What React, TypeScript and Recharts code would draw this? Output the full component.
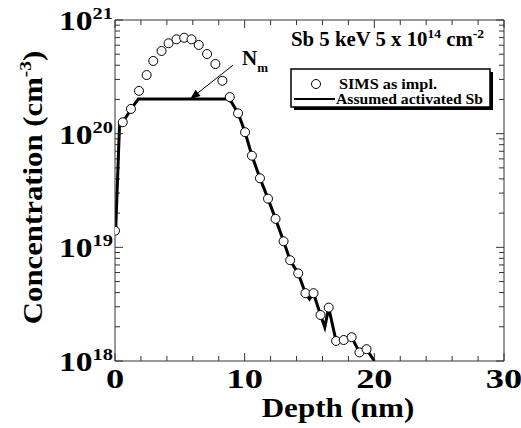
import { ComposedChart, Line, Scatter, XAxis, YAxis, ReferenceLine } from "recharts";

const SERIF = '"Liberation Serif", "Times New Roman", serif';

// SIMS as implanted (depth nm, concentration cm^-3)
const simsDepth = [
  0, 0.6, 1.23, 1.85, 2.44, 2.95, 3.59, 4.13, 4.74, 5.33, 5.9, 6.46, 7.1, 7.74, 8.28, 8.85,
  9.49, 10.03, 10.56, 11.18, 11.8, 12.38, 13.0, 13.51, 14.13, 14.69, 15.31, 15.85, 16.48,
  17.05, 17.64, 18.25, 18.85, 19.4,
];
const simsConc = [
  1.4e19, 1.26e20, 1.65e20, 2.38e20, 3.28e20, 4.36e20, 5.34e20, 6.24e20, 6.76e20, 6.98e20,
  6.76e20, 6.03e20, 5.02e20, 4.1e20, 2.92e20, 2.1e20, 1.51e20, 1.03e20, 6.4e19, 4.05e19,
  2.68e19, 1.78e19, 1.13e19, 7.7e18, 5.9e18, 3.95e18, 3.95e18, 2.54e18, 2.95e18, 1.5e18,
  1.53e18, 1.62e18, 1.19e18, 1.27e18,
];

// assumed activated Sb
const fitDepth = [
  0.05, 0.35, 0.6, 1.25, 1.8, 8.7, 9.0, 9.5, 10.03, 10.56, 11.18, 11.8, 12.38, 13.0, 13.51,
  14.13, 14.69, 15.0, 15.31, 15.85, 16.18, 16.48, 17.05, 17.64, 18.25, 18.85, 19.4, 20.0,
];
const fitConc = [
  1.4e19, 1.2e20, 1.26e20, 1.65e20, 2.02e20, 2.02e20, 1.88e20, 1.51e20, 1.03e20, 6.4e19,
  4.05e19, 2.68e19, 1.78e19, 1.13e19, 7.7e18, 5.9e18, 3.95e18, 3.5e18, 3.95e18, 2.54e18,
  1.98e18, 2.95e18, 1.5e18, 1.53e18, 1.62e18, 1.19e18, 1.27e18, 1e18,
];

const xTicks = [0, 2, 4, 6, 8, 10, 12, 14, 16, 18, 20, 22, 24, 26, 28, 30];
const xLabels = [0, 10, 20, 30];
const decades = [1e18, 1e19, 1e20, 1e21];
const minorMult = [2, 3, 4, 5, 6, 7, 8, 9];

const yTicks: number[] = [];
decades.forEach((d, i) => {
  yTicks.push(d);
  if (i < decades.length - 1) minorMult.forEach((m) => yTicks.push(d * m));
});

const simsData = simsDepth.map((x, i) => ({ x, c: simsConc[i] }));
const fitData = fitDepth.map((x, i) => ({ x, c: fitConc[i] }));

const isMajorY = (v: number) => decades.some((d) => Math.abs(v - d) < d * 1e-6);
const FRAME = "#333";

function XLabel(p: any) {
  return (
    <text
      transform={`translate(${p.x},${p.y + 27}) scale(1.3,1)`}
      textAnchor="middle"
      fontFamily={SERIF}
      fontWeight="bold"
      fontSize={28}
      fill="#000"
    >
      {p.payload.value}
    </text>
  );
}

function YLabel(p: any) {
  const exp = Math.round(Math.log10(p.payload.value));
  return (
    <text
      transform={`translate(${p.x - 2},${p.y + 10}) scale(1.2,1)`}
      textAnchor="end"
      fontFamily={SERIF}
      fontWeight="bold"
      fontSize={28}
      fill="#000"
    >
      10
      <tspan dy={-11} fontSize={17}>
        {exp}
      </tspan>
    </text>
  );
}

// inward tick marks at both ends of a vertical reference line (bottom + top axis)
function makeXTick(major: boolean) {
  return (p: any) => {
    const top = Math.min(p.y1, p.y2);
    const bot = Math.max(p.y1, p.y2);
    const len = major ? 8 : 5;
    return (
      <g>
        <line x1={p.x1} x2={p.x1} y1={bot} y2={bot - len} stroke={FRAME} />
        <line x1={p.x1} x2={p.x1} y1={top} y2={top + len} stroke={FRAME} />
      </g>
    );
  };
}

// inward tick marks at both ends of a horizontal reference line (left + right axis)
function makeYTick(major: boolean) {
  return (p: any) => {
    const l = Math.min(p.x1, p.x2);
    const r = Math.max(p.x1, p.x2);
    const len = major ? 8 : 5;
    return (
      <g>
        <line x1={l} x2={l + len} y1={p.y1} y2={p.y1} stroke={FRAME} />
        <line x1={r} x2={r - len} y1={p.y1} y2={p.y1} stroke={FRAME} />
      </g>
    );
  };
}

function XTitle(p: any) {
  const vb = p.viewBox;
  return (
    <text
      transform={`translate(${vb.x + 223},${vb.y + 56}) scale(1.15,1)`}
      textAnchor="middle"
      fontFamily={SERIF}
      fontWeight="bold"
      fontSize={27}
      fill="#000"
    >
      Depth (nm)
    </text>
  );
}

function YTitle(p: any) {
  const vb = p.viewBox;
  return (
    <text
      transform={`translate(${vb.x + 32},${vb.y + vb.height / 2 - 3}) rotate(-90) scale(1.14,1)`}
      textAnchor="middle"
      fontFamily={SERIF}
      fontWeight="bold"
      fontSize={27}
      fill="#000"
    >
      Concentration (cm
      <tspan dy={-11} fontSize={17}>
        -3
      </tspan>
      <tspan dy={11}>)</tspan>
    </text>
  );
}

function Arrow(p: any) {
  const { x1, y1, x2, y2 } = p;
  const a = Math.atan2(y2 - y1, x2 - x1);
  const L = 10;
  const w = 4;
  const bx = x2 - L * Math.cos(a);
  const by = y2 - L * Math.sin(a);
  const nx = -Math.sin(a) * w;
  const ny = Math.cos(a) * w;
  return (
    <g>
      <line x1={x1} y1={y1} x2={bx} y2={by} stroke="#000" strokeWidth={1} />
      <polygon points={`${x2},${y2} ${bx + nx},${by + ny} ${bx - nx},${by - ny}`} fill="#000" />
      <text x={x1 + 9} y={y1} fontFamily={SERIF} fontWeight="bold" fontSize={21} fill="#000">
        N
        <tspan dy={7} fontSize={13}>
          m
        </tspan>
      </text>
    </g>
  );
}

export default function App() {
  return (
    <div style={{ position: "absolute", left: 0, top: 0, width: 521, height: 428, background: "#fff" }}>
      <ComposedChart
        width={521}
        height={428}
        margin={{ top: 20, right: 17, bottom: 7, left: 10 }}
      >
        <XAxis
          dataKey="x"
          type="number"
          domain={[0, 30]}
          ticks={xLabels}
          interval={0}
          tick={XLabel}
          tickLine={false}
          tickSize={0}
          tickMargin={0}
          axisLine={{ stroke: FRAME }}
          height={60}
          allowDataOverflow
          label={<XTitle />}
        />
        <YAxis
          dataKey="c"
          type="number"
          scale="log"
          domain={[1e18, 1e21]}
          ticks={decades}
          interval={0}
          tick={YLabel}
          tickLine={false}
          tickSize={0}
          tickMargin={0}
          axisLine={{ stroke: FRAME }}
          width={105}
          allowDataOverflow
          label={<YTitle />}
        />
        {/* frame: top and right edges */}
        <ReferenceLine y={1e21} stroke={FRAME} ifOverflow="visible" />
        <ReferenceLine x={30} stroke={FRAME} ifOverflow="visible" />
        {xTicks.map((t) => (
          <ReferenceLine key={`xt${t}`} x={t} ifOverflow="visible" shape={makeXTick(t % 10 === 0)} />
        ))}
        {yTicks.map((t) => (
          <ReferenceLine key={`yt${t}`} y={t} ifOverflow="visible" shape={makeYTick(isMajorY(t))} />
        ))}
        <Line
          data={fitData}
          dataKey="c"
          type="linear"
          stroke="#000"
          strokeWidth={3}
          dot={false}
          isAnimationActive={false}
        />
        <Scatter
          data={simsData}
          dataKey="c"
          isAnimationActive={false}
          shape={(p: any) => (
            <circle cx={p.cx} cy={p.cy} r={4.5} fill="#fff" stroke="#000" strokeWidth={1} />
          )}
        />
        <ReferenceLine
          segment={[
            { x: 9.1, y: 4.0e20 },
            { x: 5.8, y: 2.02e20 },
          ]}
          ifOverflow="visible"
          shape={Arrow}
        />
      </ComposedChart>
      <svg
        width={521}
        height={428}
        style={{ position: "absolute", left: 0, top: 0, pointerEvents: "none" }}
      >
        <text
          x={291}
          y={46}
          textLength={193}
          lengthAdjust="spacingAndGlyphs"
          fontFamily={SERIF}
          fontWeight="bold"
          fontSize={20}
          fill="#000"
        >
          Sb 5 keV 5 x 10
          <tspan dy={-8} fontSize={13}>
            14
          </tspan>
          <tspan dy={8}> cm</tspan>
          <tspan dy={-8} fontSize={13}>
            -2
          </tspan>
        </text>
        <rect x={294} y={72} width={199} height={38} fill="#000" />
        <rect x={291} y={69} width={199} height={38} fill="#fff" stroke="#000" strokeWidth={1.5} />
        <circle cx={316} cy={84} r={4.5} fill="#fff" stroke="#000" strokeWidth={1} />
        <text
          x={339}
          y={88.5}
          textLength={98}
          lengthAdjust="spacingAndGlyphs"
          fontFamily={SERIF}
          fontWeight="bold"
          fontSize={15}
          fill="#000"
        >
          SIMS as impl.
        </text>
        <line x1={294} x2={335} y1={99} y2={99} stroke="#000" strokeWidth={2} />
        <text
          x={336}
          y={104}
          textLength={147}
          lengthAdjust="spacingAndGlyphs"
          fontFamily={SERIF}
          fontWeight="bold"
          fontSize={15}
          fill="#000"
        >
          Assumed activated Sb
        </text>
      </svg>
    </div>
  );
}
